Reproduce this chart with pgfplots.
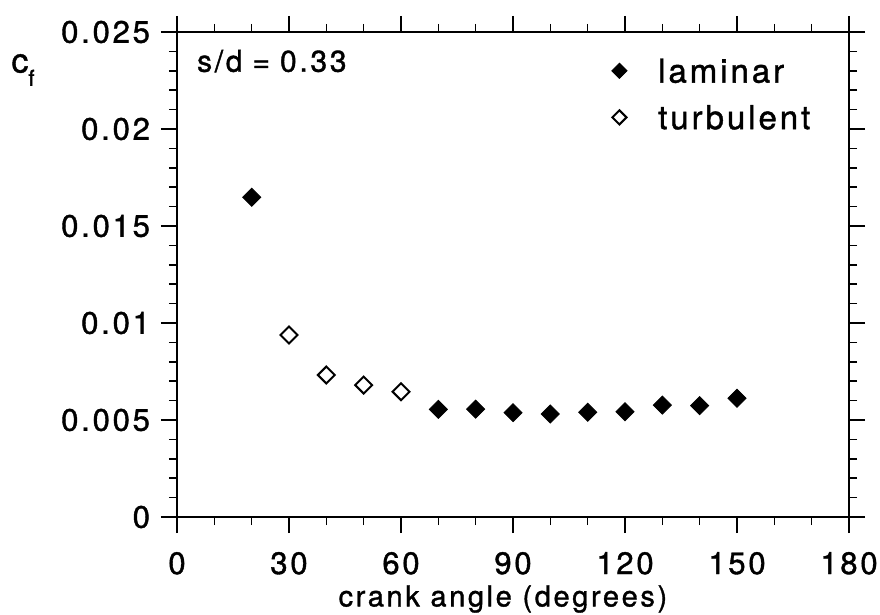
\documentclass[border=0pt]{standalone}
\usepackage{pgfplots}
\pgfplotsset{compat=1.18}
\usepackage{fontspec}
\setmainfont{TeX Gyre Heros}[LetterSpace=9, FakeBold=1.2]
\begin{document}
\begin{tikzpicture}
\begin{axis}[
  scale only axis,
  width=336pt, height=242.5pt,
  xmin=0, xmax=180, ymin=0, ymax=0.025,
  xtick={0,30,...,180},
  ytick={0,0.005,0.01,0.015,0.02,0.025},
  yticklabels={0,0.005,0.01,0.015,0.02,0.025},
  scaled y ticks=false,
  minor x tick num=2,
  minor y tick num=4,
  tick align=outside,
  major tick length=8pt,
  minor tick length=4pt,
  axis line style={line width=1pt},
  every tick/.style={black, line width=0.8pt},
  /pgf/number format/assume math mode=true,
  ticklabel style={font=\fontsize{15.5}{18}\selectfont},
  xticklabel style={yshift=-6pt},
  yticklabel style={xshift=-2pt},
  xlabel={crank angle (degrees)},
  xlabel style={font=\fontsize{14.5}{17}\selectfont, at={(axis description cs:0.485,0)}, anchor=center, yshift=-41pt},
  clip=false,
]
\addplot[only marks, mark=square*, mark size=3.2pt, mark options={rotate=45, fill=black, draw=black}]
  coordinates {(20,0.01648) (70,0.00555) (80,0.00556) (90,0.00538) (100,0.00531) (110,0.0054) (120,0.00543) (130,0.00577) (140,0.00574) (150,0.00612)};
\addplot[only marks, mark=square, mark size=3pt, mark options={rotate=45, fill=white, draw=black, line width=1pt}]
  coordinates {(30,0.00938) (40,0.00732) (50,0.0068) (60,0.00646)};
\addplot[only marks, mark=square*, mark size=2.7pt, mark options={rotate=45, fill=black, draw=black}]
  coordinates {(118.5,0.0230)};
\addplot[only marks, mark=square, mark size=2.5pt, mark options={rotate=45, fill=white, draw=black, line width=1pt}]
  coordinates {(118.5,0.0206)};
\node[anchor=west, font=\fontsize{16.5}{19}\selectfont] at (axis cs:127,0.0230) {laminar};
\node[anchor=west, font=\fontsize{16.5}{19}\selectfont] at (axis cs:127,0.0206) {turbulent};
\node[anchor=west, font=\fontsize{15}{18}\selectfont] at (axis cs:3.5,0.0235) {s/d\,\,=\,\,0.33};
\node[font=\fontsize{17}{19}\selectfont] at (rel axis cs:0,1) [xshift=-77pt, yshift=-19pt] {c\raisebox{-0.75ex}{\fontsize{11}{13}\selectfont f}};
\coordinate (bl) at (rel axis cs:0,0);
\coordinate (tr) at (rel axis cs:1,1);
\end{axis}
\pgfresetboundingbox
\path[use as bounding box] ([xshift=-88.5pt, yshift=-48.5pt]bl) rectangle ([xshift=15.5pt, yshift=16pt]tr);
\end{tikzpicture}
\end{document}
